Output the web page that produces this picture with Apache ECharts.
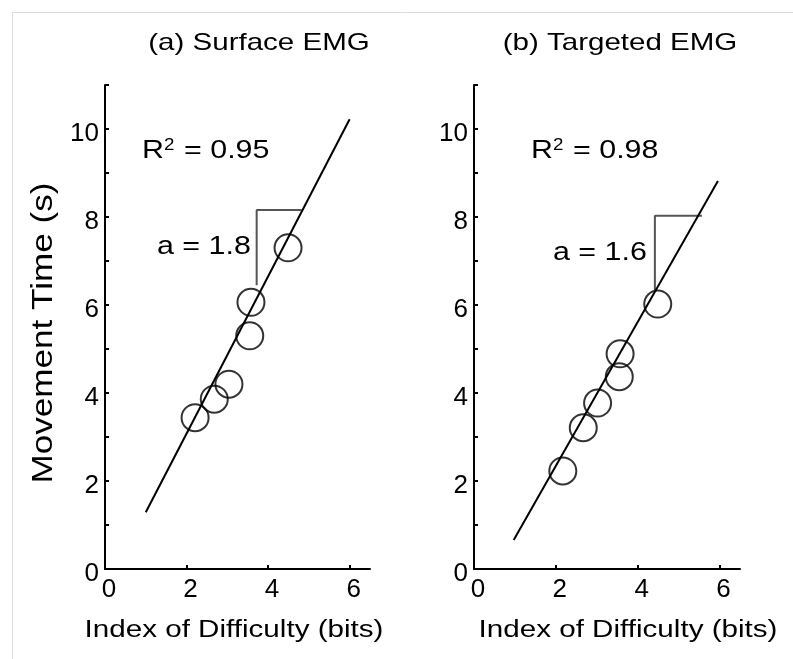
<!DOCTYPE html>
<html>
<head>
<meta charset="utf-8">
<script src="https://cdn.jsdelivr.net/npm/echarts@6/dist/echarts.min.js"></script>
<style>
html, body { margin: 0; padding: 0; background: #fff; }
#chart { width: 793px; height: 659px; }
</style>
</head>
<body>
<div id="chart"></div>
<script>
// index of difficulty (bits) / movement time (s)
var idSurface = [2.21, 2.68, 3.04, 3.55, 3.58, 4.49];
var mtSurface = [3.44, 3.86, 4.20, 5.30, 6.06, 7.30];
var idTargeted = [2.17, 2.67, 3.02, 3.55, 3.57, 4.49];
var mtTargeted = [2.23, 3.21, 3.77, 4.37, 4.89, 6.02];

// regression lines (end points) and slope markers
var fitSurface = [[1.0, 1.29], [6.0, 10.22]];
var fitTargeted = [[0.97, 0.66], [5.96, 8.82]];
var slopeSurface = [[3.72, 6.45], [3.72, 8.16], [4.82, 8.16]];
var slopeTargeted = [[4.42, 6.34], [4.42, 8.03], [5.57, 8.03]];

var xLabelVals = [0, 2, 4, 6];
var xTickVals = [2, 4, 6];
var yLabelVals = [0, 2, 4, 6, 8, 10];
var yTickVals = [0, 1, 2, 3, 4, 5, 6, 7, 8, 9, 10, 11];

var FONT = "'Liberation Sans', Arial, sans-serif";

function pairs(xs, ys) {
	var out = [];
	for (var i = 0; i < xs.length; i++) out.push([xs[i], ys[i]]);
	return out;
}

function makeX(idx) {
	return {
		gridIndex: idx, type: 'value', min: 0, max: 6.5,
		axisLine: { show: true, onZero: false, lineStyle: { color: '#000', width: 2 } },
		axisTick: { show: true, inside: true, length: 4, customValues: xTickVals, lineStyle: { color: '#000', width: 2 } },
		axisLabel: { customValues: xLabelVals, fontSize: 26, color: '#000', margin: 8, fontFamily: FONT,
			formatter: '{v|{value}}', rich: { v: { fontSize: 26, fontFamily: FONT, color: '#000', padding: [0, 0, 0, 8] } } },
		splitLine: { show: false }
	};
}

function makeY(idx) {
	return {
		gridIndex: idx, type: 'value', min: 0, max: 11,
		axisLine: { show: true, onZero: false, lineStyle: { color: '#000', width: 2 } },
		axisTick: { show: true, inside: true, length: 4, customValues: yTickVals, lineStyle: { color: '#000', width: 2 } },
		axisLabel: { customValues: yLabelVals, fontSize: 26, color: '#000', margin: 6, fontFamily: FONT,
			formatter: '{v|{value}}', rich: { v: { fontSize: 26, fontFamily: FONT, color: '#000', padding: [10, 0, 0, 0] } } },
		splitLine: { show: false }
	};
}

function fitLine(idx, data) {
	return { type: 'line', xAxisIndex: idx, yAxisIndex: idx, data: data, symbol: 'none',
		lineStyle: { color: '#000', width: 2 }, silent: true, z: 2 };
}
function slopeLine(idx, data) {
	return { type: 'line', xAxisIndex: idx, yAxisIndex: idx, data: data, symbol: 'none',
		lineStyle: { color: '#555', width: 2 }, silent: true, z: 1 };
}
function points(idx, data) {
	return { type: 'scatter', xAxisIndex: idx, yAxisIndex: idx, data: data, symbol: 'circle', symbolSize: 27,
		itemStyle: { color: 'rgba(0,0,0,0)', borderColor: '#000', borderWidth: 2 }, z: 3 };
}

function txt(text, x, y, size, sx, align, extra) {
	var el = { type: 'text', x: x, y: y, scaleX: sx,
		style: { text: text, fontSize: size, fontFamily: FONT, fill: '#000', align: align, verticalAlign: 'middle' } };
	if (extra) for (var k in extra) el[k] = extra[k];
	return el;
}
function rsq(text, x, y) {
	var el = txt(text, x, y, 26, 1.17, 'left');
	el.style.rich = { sup: { fontSize: 16, fontFamily: FONT, fill: '#000', verticalAlign: 'top', padding: [0, 1, 0, 0] } };
	return el;
}

var myChart = echarts.init(document.getElementById('chart'));
var option = {
	backgroundColor: '#fff',
	animation: false,
	grid: [
		{ left: 105, top: 85, width: 265, height: 484 },
		{ left: 474, top: 85, width: 266, height: 484 }
	],
	xAxis: [makeX(0), makeX(1)],
	yAxis: [makeY(0), makeY(1)],
	series: [
		slopeLine(0, slopeSurface), fitLine(0, fitSurface), points(0, pairs(idSurface, mtSurface)),
		slopeLine(1, slopeTargeted), fitLine(1, fitTargeted), points(1, pairs(idTargeted, mtTargeted))
	],
	graphic: [
		{ type: 'line', shape: { x1: 12.5, y1: 12.5, x2: 793, y2: 12.5 }, style: { stroke: '#dcdcdc', lineWidth: 1 } },
		{ type: 'line', shape: { x1: 12.5, y1: 12.5, x2: 12.5, y2: 659 }, style: { stroke: '#dcdcdc', lineWidth: 1 } },
		txt('(a) Surface EMG', 259, 43, 24, 1.23, 'center'),
		txt('(b) Targeted EMG', 620, 43, 24, 1.23, 'center'),
		txt('Index of Difficulty (bits)', 234, 631, 23.5, 1.26, 'center'),
		txt('Index of Difficulty (bits)', 628, 631, 23.5, 1.26, 'center'),
		txt('Movement Time (s)', 44, 333, 30, 1.17, 'center', { rotation: Math.PI / 2 }),
		rsq('R{sup|2} = 0.95', 142, 151),
		rsq('R{sup|2} = 0.98', 531, 151),
		txt('a = 1.8', 157, 247, 26, 1.17, 'left'),
		txt('a = 1.6', 553, 253, 26, 1.17, 'left')
	]
};
myChart.setOption(option);
</script>
</body>
</html>
